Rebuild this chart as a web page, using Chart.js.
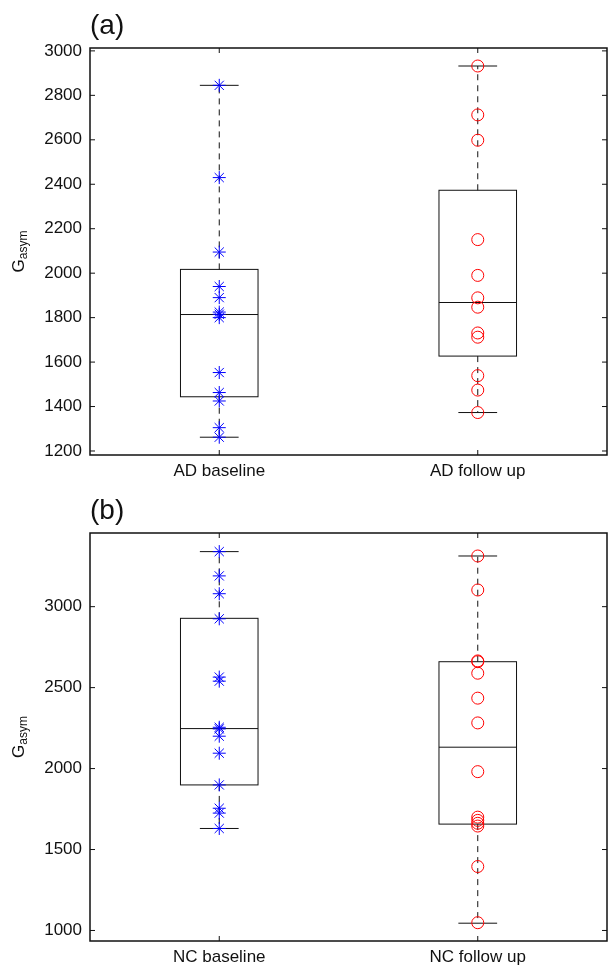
<!DOCTYPE html>
<html lang="en">
<head>
    <meta charset="UTF-8">
    <title>G asym boxplots</title>
    <script src="https://cdn.jsdelivr.net/npm/chart.js"></script>
    <style>
        body { margin: 0; background: #fff; }
        canvas { display: block; }
    </style>
</head>
<body>
    <canvas id="chartA" width="608" height="484"></canvas>
    <canvas id="chartB" width="608" height="484"></canvas>

    <script>
        // ---- panel (a) ----
        const groupsA = ["AD baseline", "AD follow up"];
        const adBaseline = [2845, 2430, 2095, 1940, 1890, 1825, 1815, 1800, 1553, 1463, 1425, 1305, 1262];
        const adFollowUp = [2932, 2712, 2598, 2151, 1990, 1889, 1847, 1731, 1712, 1539, 1474, 1373];
        const lowA = [1262, 1373];
        const q1A = [1444, 1627];
        const medianA = [1814, 1868];
        const q3A = [2017, 2373];
        const highA = [2845, 2932];
        const yTicksA = [1200, 1400, 1600, 1800, 2000, 2200, 2400, 2600, 2800, 3000];

        // ---- panel (b) ----
        const groupsB = ["NC baseline", "NC follow up"];
        const ncBaseline = [3340, 3190, 3080, 2925, 2565, 2540, 2255, 2245, 2200, 2095, 1899, 1755, 1725, 1630];
        const ncFollowUp = [3313, 3103, 2665, 2660, 2589, 2435, 2282, 1981, 1700, 1680, 1662, 1645, 1395, 1048];
        const lowB = [1630, 1045];
        const q1B = [1899, 1657];
        const medianB = [2247, 2132];
        const q3B = [2928, 2660];
        const highB = [3340, 3313];
        const yTicksB = [1000, 1500, 2000, 2500, 3000];

        const boxPlugin = {
            id: "boxes",
            beforeDatasetsDraw(chart, args, opts) {
                const ctx = chart.ctx;
                const x = chart.scales.x, y = chart.scales.y;
                ctx.save();
                ctx.strokeStyle = "#111";
                ctx.lineWidth = 1;
                for (let i = 0; i < opts.median.length; i++) {
                    const c = i + 1;
                    const l = x.getPixelForValue(c - 0.15), r = x.getPixelForValue(c + 0.15);
                    const cl = x.getPixelForValue(c - 0.075), cr = x.getPixelForValue(c + 0.075);
                    const xc = x.getPixelForValue(c);
                    const yq1 = y.getPixelForValue(opts.q1[i]), yq3 = y.getPixelForValue(opts.q3[i]);
                    const ym = y.getPixelForValue(opts.median[i]);
                    const ylo = y.getPixelForValue(opts.low[i]), yhi = y.getPixelForValue(opts.high[i]);
                    // dashed whiskers
                    ctx.setLineDash([6, 5]);
                    ctx.beginPath();
                    ctx.moveTo(xc, yq3); ctx.lineTo(xc, yhi);
                    ctx.moveTo(xc, yq1); ctx.lineTo(xc, ylo);
                    ctx.stroke();
                    ctx.setLineDash([]);
                    // caps
                    ctx.beginPath();
                    ctx.moveTo(cl, yhi); ctx.lineTo(cr, yhi);
                    ctx.moveTo(cl, ylo); ctx.lineTo(cr, ylo);
                    ctx.stroke();
                    // box + median
                    ctx.strokeRect(l, yq3, r - l, yq1 - yq3);
                    ctx.beginPath();
                    ctx.moveTo(l, ym); ctx.lineTo(r, ym);
                    ctx.stroke();
                }
                ctx.restore();
            },
            afterDraw(chart) {
                const ctx = chart.ctx;
                const a = chart.chartArea;
                const x = chart.scales.x, y = chart.scales.y;
                ctx.save();
                ctx.strokeStyle = "#111";
                ctx.lineWidth = 1.5;
                ctx.strokeRect(a.left, a.top, a.right - a.left, a.bottom - a.top);
                // inward ticks
                ctx.lineWidth = 1;
                ctx.beginPath();
                y.ticks.forEach(t => {
                    const py = y.getPixelForValue(t.value);
                    ctx.moveTo(a.left, py); ctx.lineTo(a.left + 5, py);
                    ctx.moveTo(a.right, py); ctx.lineTo(a.right - 5, py);
                });
                x.ticks.forEach(t => {
                    const px = x.getPixelForValue(t.value);
                    ctx.moveTo(px, a.top); ctx.lineTo(px, a.top + 5);
                    ctx.moveTo(px, a.bottom); ctx.lineTo(px, a.bottom - 5);
                });
                ctx.stroke();
                // y label G_asym
                const cy = (a.top + a.bottom) / 2;
                ctx.fillStyle = "#111";
                ctx.translate(24, cy);
                ctx.rotate(-Math.PI / 2);
                ctx.textBaseline = "alphabetic";
                ctx.textAlign = "left";
                ctx.font = "17px 'Liberation Sans', Arial, sans-serif";
                const wG = ctx.measureText("G").width;
                ctx.font = "12px 'Liberation Sans', Arial, sans-serif";
                const wS = ctx.measureText("asym").width;
                const start = -(wG + wS) / 2;
                ctx.font = "17px 'Liberation Sans', Arial, sans-serif";
                ctx.fillText("G", start, 0);
                ctx.font = "12px 'Liberation Sans', Arial, sans-serif";
                ctx.fillText("asym", start + wG, 3);
                ctx.restore();
            }
        };

        function makeChart(id, title, groups, base, follow, stats, yTicks, yMin, yMax, xHeight, titleTop) {
            const ctx = document.getElementById(id).getContext("2d");
            return new Chart(ctx, {
                type: "scatter",
                data: {
                    datasets: [{
                        data: base.map(v => ({ x: 1, y: v })),
                        pointStyle: "star",
                        pointRadius: 6.5,
                        borderColor: "#0000ff",
                        borderWidth: 1,
                        backgroundColor: "transparent"
                    }, {
                        data: follow.map(v => ({ x: 2, y: v })),
                        pointStyle: "circle",
                        pointRadius: 6,
                        borderColor: "#ff0000",
                        borderWidth: 1,
                        backgroundColor: "transparent"
                    }]
                },
                options: {
                    responsive: false,
                    animation: false,
                    events: [],
                    layout: { autoPadding: false, padding: { left: 0, right: 1, top: 0, bottom: 0 } },
                    plugins: {
                        legend: { display: false },
                        tooltip: { enabled: false },
                        title: {
                            display: true,
                            text: title,
                            align: "start",
                            fullSize: false,
                            color: "#111",
                            font: { family: "'Liberation Sans', Arial, sans-serif", size: 28, weight: "normal", lineHeight: 1.2 },
                            padding: { top: titleTop, bottom: 5.4 }
                        },
                        boxes: stats
                    },
                    scales: {
                        x: {
                            type: "linear",
                            min: 0.5,
                            max: 2.5,
                            grid: { display: false, drawTicks: false },
                            border: { display: false },
                            afterBuildTicks: axis => { axis.ticks = [{ value: 1 }, { value: 2 }]; },
                            afterFit: axis => {
                                axis.height = xHeight;
                                axis.paddingLeft = 0;
                                axis.paddingRight = 0;
                            },
                            ticks: {
                                color: "#111",
                                padding: 6,
                                maxRotation: 0,
                                font: { family: "'Liberation Sans', Arial, sans-serif", size: 17 },
                                callback: v => groups[v - 1]
                            }
                        },
                        y: {
                            min: yMin,
                            max: yMax,
                            grid: { display: false, drawTicks: false },
                            border: { display: false },
                            afterBuildTicks: axis => { axis.ticks = yTicks.map(v => ({ value: v })); },
                            afterFit: axis => {
                                axis.width = 90;
                                axis.paddingTop = 0;
                                axis.paddingBottom = 0;
                            },
                            ticks: {
                                color: "#111",
                                padding: 8,
                                font: { family: "'Liberation Sans', Arial, sans-serif", size: 17 },
                                callback: v => String(v)
                            }
                        }
                    }
                },
                plugins: [boxPlugin]
            });
        }

        makeChart("chartA", "(a)", groupsA, adBaseline, adFollowUp,
            { low: lowA, q1: q1A, median: medianA, q3: q3A, high: highA },
            yTicksA, 1182, 3013, 29, 9);
        makeChart("chartB", "(b)", groupsB, ncBaseline, ncFollowUp,
            { low: lowB, q1: q1B, median: medianB, q3: q3B, high: highB },
            yTicksB, 935, 3455, 27, 10);
    </script>
</body>
</html>
